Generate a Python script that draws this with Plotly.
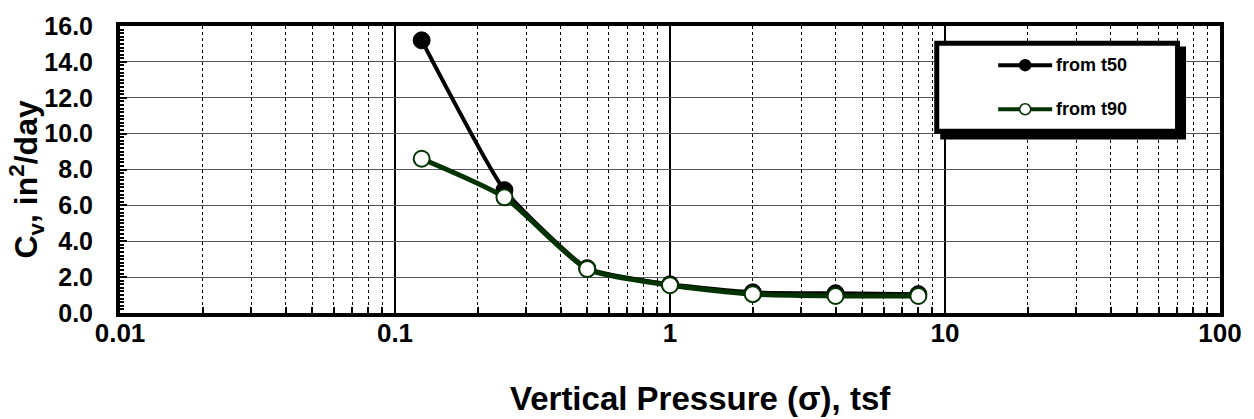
import plotly.graph_objects as go

# Consolidation test results: coefficient of consolidation vs. vertical pressure
pressure_tsf = [0.125, 0.25, 0.5, 1, 2, 4, 8]
cv_from_t50 = [15.2, 6.85, 2.5, 1.6, 1.15, 1.1, 1.05]
cv_from_t90 = [8.6, 6.45, 2.45, 1.55, 1.05, 0.95, 0.95]

x_tick_values = [0.01, 0.1, 1, 10, 100]
x_tick_labels = ["0.01", "0.1", "1", "10", "100"]
y_tick_values = [0, 2, 4, 6, 8, 10, 12, 14, 16]
x_minor_values = [m * 10.0 ** e for e in range(-2, 2) for m in range(2, 10)]

series_names = ["from t50", "from t90"]

FONT = "Liberation Sans, Arial, sans-serif"
GREEN = "#003300"

W, H = 1254, 419
ML, MR, MT, MB = 120, 33, 20, 106
PW, PH = W - ML - MR, H - MT - MB


def px(xp):
    return (xp - ML) / PW


def py(yp):
    return (H - MB - yp) / PH


fig = go.Figure()

fig.add_trace(go.Scatter(
    x=pressure_tsf, y=cv_from_t50, name=series_names[0],
    mode="lines+markers",
    line=dict(color="black", width=4, shape="spline", smoothing=0.45),
    marker=dict(symbol="circle", size=17, color="black",
                line=dict(color="black", width=1)),
    showlegend=False,
))
fig.add_trace(go.Scatter(
    x=pressure_tsf, y=cv_from_t90, name=series_names[1],
    mode="lines+markers",
    line=dict(color=GREEN, width=5, shape="spline", smoothing=0.6),
    marker=dict(symbol="circle", size=16, color="white",
                line=dict(color=GREEN, width=2)),
    showlegend=False,
))

# Boxed legend with a drop shadow
shapes = [
    dict(type="rect", xref="paper", yref="paper", layer="above",
         x0=px(941), x1=px(1187), y0=py(41), y1=py(136),
         fillcolor="black", line=dict(width=0)),
    dict(type="rect", xref="paper", yref="paper", layer="above",
         x0=px(937.5), x1=px(1178.5), y0=py(37.5), y1=py(127.5),
         fillcolor="white", line=dict(color="black", width=5)),
]
legend_rows = [
    (60, "black", 4, "black", "black"),
    (105, GREEN, 4, "white", GREEN),
]
annotations = []
for (row_y, lc, lw, fill, edge), name in zip(legend_rows, series_names):
    shapes.append(dict(type="line", xref="paper", yref="paper", layer="above",
                       x0=px(999), x1=px(1053), y0=py(row_y), y1=py(row_y),
                       line=dict(color=lc, width=lw)))
    shapes.append(dict(type="circle", xref="paper", yref="paper", layer="above",
                       xsizemode="pixel", ysizemode="pixel",
                       xanchor=px(1026), yanchor=py(row_y),
                       x0=-5.5, x1=5.5, y0=-5.5, y1=5.5,
                       fillcolor=fill, line=dict(color=edge, width=1.5)))
    annotations.append(dict(xref="paper", yref="paper", x=px(1055), y=py(row_y),
                            xanchor="left", yanchor="middle", showarrow=False,
                            text="<b>" + name + "</b>",
                            font=dict(family=FONT, size=18, color="black")))

annotations.append(dict(
    xref="paper", yref="paper", x=0, y=0.5, xshift=-94, yshift=-10,
    xanchor="center", yanchor="middle", textangle=-90, showarrow=False,
    text="<b>C<sub>v</sub>, in<sup>2</sup>/day</b>",
    font=dict(family=FONT, size=32, color="black")))
annotations.append(dict(
    xref="paper", yref="paper", x=0.5, y=0, xshift=30, yshift=-85,
    xanchor="center", yanchor="middle", showarrow=False,
    text="<b>Vertical Pressure (σ), tsf</b>",
    font=dict(family=FONT, size=33, color="black")))

fig.update_layout(
    width=W, height=H,
    margin=dict(l=ML, r=MR, t=MT, b=MB, pad=0),
    paper_bgcolor="white", plot_bgcolor="white",
    font=dict(family=FONT, color="black"),
    shapes=shapes, annotations=annotations,
    showlegend=False,
)

fig.update_xaxes(
    type="log", range=[-2, 2],
    tickmode="array", tickvals=x_tick_values, ticktext=x_tick_labels,
    tickfont=dict(family=FONT, size=26, color="black", weight="bold"),
    ticks="", ticklabelstandoff=-6,
    showgrid=True, gridcolor="black", gridwidth=2,
    minor=dict(tickmode="array", tickvals=x_minor_values, ticks="inside",
               ticklen=6, tickwidth=2, tickcolor="black",
               showgrid=True, gridcolor="black", gridwidth=1, griddash="dot"),
    showline=True, linecolor="black", linewidth=4, mirror=True,
    zeroline=False,
)
fig.update_yaxes(
    range=[0, 16], tickmode="array", tickvals=y_tick_values, tickformat=".1f",
    tickfont=dict(family=FONT, size=25, color="black", weight="bold"),
    ticks="inside", ticklen=7, tickwidth=2, tickcolor="black",
    ticklabelstandoff=18,
    showgrid=True, gridcolor="#555555", gridwidth=1,
    minor=dict(dtick=0.2, tick0=0, ticks="inside", ticklen=4, tickwidth=2,
               tickcolor="black", showgrid=False),
    showline=True, linecolor="black", linewidth=4, mirror=True,
    zeroline=False,
)

fig.write_html("out.html")
